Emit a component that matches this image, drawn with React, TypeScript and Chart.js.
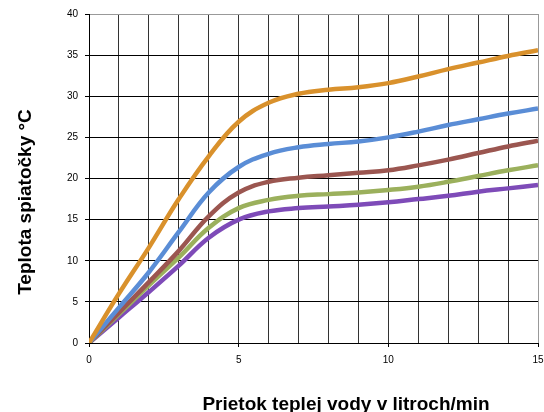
import React, { useEffect, useRef } from "react";
import { Chart, registerables } from "chart.js";

Chart.register(...registerables);

const flowX = [0, 1, 2, 3, 4, 5, 6, 7, 8, 9, 10, 11, 12, 13, 14, 15];
const orangeSeries = [0, 6.0, 11.6, 17.5, 22.7, 26.9, 29.2, 30.3, 30.8, 31.1, 31.6, 32.4, 33.3, 34.1, 34.9, 35.6];
const blueSeries = [0, 4.3, 8.6, 13.5, 18.3, 21.4, 23.0, 23.8, 24.2, 24.5, 25.0, 25.7, 26.5, 27.2, 27.9, 28.5];
const brownSeries = [0, 3.7, 7.4, 11.2, 15.4, 18.3, 19.6, 20.1, 20.4, 20.7, 21.0, 21.6, 22.3, 23.1, 23.9, 24.6];
const greenSeries = [0, 3.5, 7.0, 10.4, 14.0, 16.4, 17.4, 17.9, 18.1, 18.3, 18.6, 19.0, 19.6, 20.3, 21.0, 21.6];
const purpleSeries = [0, 3.1, 6.2, 9.4, 12.8, 15.0, 16.0, 16.4, 16.6, 16.8, 17.1, 17.5, 17.9, 18.4, 18.8, 19.2];

const xTitle = "Prietok teplej vody v litroch/min";
const yTitle = "Teplota spiatočky °C";

const seriesList = [
  { values: orangeSeries, color: "#D9912C" },
  { values: blueSeries, color: "#5A8DD6" },
  { values: brownSeries, color: "#9B5650" },
  { values: greenSeries, color: "#9BB05C" },
  { values: purpleSeries, color: "#7E4BB8" },
];

const titlePlugin = {
  id: "axisTitles",
  afterDraw(chart: any) {
    const { ctx, chartArea } = chart;
    ctx.save();
    ctx.fillStyle = "#000";
    ctx.font = "bold 19px 'Liberation Sans', Arial, sans-serif";
    ctx.textAlign = "center";
    ctx.textBaseline = "alphabetic";
    ctx.fillText(xTitle, chartArea.left + 257, chartArea.bottom + 67);
    ctx.translate(31, chartArea.top + 188);
    ctx.rotate(-Math.PI / 2);
    ctx.fillText(yTitle, 0, 0);
    ctx.restore();
  },
};

export default function App() {
  const ref = useRef<HTMLCanvasElement | null>(null);
  useEffect(() => {
    document.body.style.margin = "0";
    const canvas = ref.current!;
    const chart = new Chart(canvas, {
      type: "line",
      data: {
        datasets: seriesList.map((s) => ({
          data: flowX.map((x, i) => ({ x, y: s.values[i] })),
          borderColor: s.color,
          backgroundColor: s.color,
          borderWidth: 4.5,
          pointRadius: 0,
          tension: 0.4,
          fill: false,
        })),
      },
      options: {
        animation: false,
        responsive: false,
        layout: { padding: { top: 14, right: 6, left: 0, bottom: 0 } },
        plugins: { legend: { display: false }, tooltip: { enabled: false } },
        scales: {
          x: {
            type: "linear",
            min: 0,
            max: 15,
            afterFit: (s: any) => {
              s.height = 69;
              s.paddingLeft = 0;
              s.paddingRight = 0;
            },
            ticks: {
              stepSize: 1,
              autoSkip: false,
              maxRotation: 0,
              color: "#000",
              font: { family: "'Liberation Sans', Arial, sans-serif", size: 10 },
              padding: 7,
              callback: (v: any) => (Number(v) % 5 === 0 ? String(v) : ""),
            },
            grid: {
              color: (c: any) => (c.tick && c.tick.value === 15 ? "#999" : "#333"),
              lineWidth: 1,
              tickLength: 4,
              tickColor: (c: any) => (c.tick && c.tick.value % 5 === 0 ? "#000" : "rgba(0,0,0,0)"),
            },
            border: { color: "#000", width: 1 },
          },
          y: {
            min: 0,
            max: 40,
            afterFit: (s: any) => {
              s.width = 89;
              s.paddingTop = 0;
              s.paddingBottom = 0;
            },
            ticks: {
              stepSize: 5,
              color: "#000",
              font: { family: "'Liberation Sans', Arial, sans-serif", size: 10 },
              padding: 7,
            },
            grid: {
              color: (c: any) => (c.tick && c.tick.value === 40 ? "#999" : "#000"),
              lineWidth: 1,
              tickLength: 4,
              tickColor: "#000",
            },
            border: { color: "#000", width: 1 },
          },
        },
      },
      plugins: [titlePlugin],
    });
    return () => chart.destroy();
  }, []);
  return <canvas ref={ref} width={544} height={412} style={{ display: "block" }} />;
}
